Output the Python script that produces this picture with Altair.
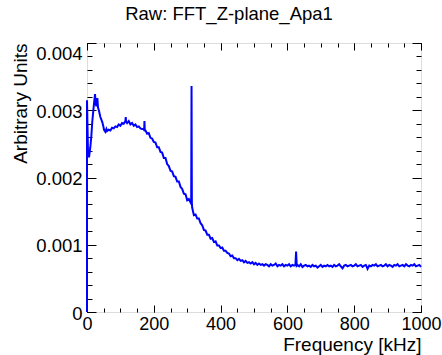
import altair as alt
import pandas as pd

# Frequency bins (kHz)
freq_low = [0, 0, 3, 6, 10, 13, 16, 20, 24, 26, 28, 31, 33, 36, 40, 43, 46, 49, 51, 55,
            58, 60, 65, 70, 75, 80, 85, 90, 95, 100, 105, 110, 115, 116, 117, 120, 125,
            130, 135, 140, 145, 150, 155, 160, 165, 170, 171, 172, 173]
freq_mid = list(range(175, 311, 5)) + [312, 313, 314] + list(range(315, 521, 5))
freq_high = list(range(525, 621, 5)) + [624, 626, 628] + list(range(630, 1001, 5))
freq = freq_low + freq_mid + freq_high

# Amplitudes (arbitrary units, x1e-3)
amp_low = [0.00, 3.15, 2.38, 2.30, 2.45, 2.62, 2.84, 3.05, 3.24, 3.10,
           3.06, 3.18, 3.04, 2.99, 2.90, 2.86, 2.82, 2.76, 2.71, 2.68,
           2.72, 2.69, 2.71, 2.70, 2.74, 2.73, 2.76, 2.75, 2.79, 2.77,
           2.81, 2.80, 2.84, 2.90, 2.83, 2.81, 2.84, 2.79, 2.81, 2.77,
           2.79, 2.75, 2.76, 2.73, 2.72, 2.72, 2.70, 2.84, 2.70]
amp_mid = [2.70, 2.65, 2.66, 2.59, 2.58, 2.53, 2.52, 2.45, 2.45, 2.38,
           2.37, 2.29, 2.29, 2.20, 2.17, 2.10, 2.09, 2.02, 2.01, 1.94,
           1.94, 1.86, 1.83, 1.76, 1.75, 1.66, 1.68, 1.63,
           1.66, 3.36, 1.60,
           1.55, 1.44, 1.45, 1.39, 1.39, 1.32, 1.29, 1.22, 1.21, 1.15,
           1.15, 1.09, 1.10, 1.04, 1.05, 0.99, 0.99, 0.95, 0.96, 0.91,
           0.91, 0.88, 0.87, 0.83, 0.84, 0.80, 0.80, 0.77, 0.79, 0.76,
           0.77, 0.74, 0.76, 0.73, 0.74, 0.72, 0.74, 0.71, 0.73, 0.70,
           0.72, 0.70]
amp_high = [0.71, 0.69, 0.71, 0.70, 0.68, 0.71, 0.69, 0.70, 0.72, 0.68,
            0.70, 0.69, 0.71, 0.68, 0.70, 0.69, 0.71, 0.68, 0.70, 0.69,
            0.70, 0.90, 0.69,
            0.70, 0.68, 0.71, 0.67, 0.69, 0.70, 0.68, 0.69, 0.67, 0.70,
            0.68, 0.69, 0.66, 0.68, 0.70, 0.67, 0.69, 0.68, 0.70, 0.68,
            0.69, 0.67, 0.70, 0.68, 0.69, 0.71, 0.68, 0.65, 0.69, 0.70,
            0.68, 0.69, 0.70, 0.68, 0.69, 0.71, 0.68, 0.69, 0.70, 0.67,
            0.69, 0.70, 0.64, 0.69, 0.68, 0.70, 0.69, 0.71, 0.68, 0.69,
            0.70, 0.68, 0.69, 0.71, 0.68, 0.70, 0.69, 0.67, 0.70, 0.69,
            0.71, 0.68, 0.69, 0.70, 0.68, 0.71, 0.69, 0.68, 0.70, 0.69,
            0.71, 0.68, 0.69, 0.70, 0.67]
amp_milli = amp_low + amp_mid + amp_high

x_major = [0, 200, 400, 600, 800, 1000]
x_minor = [v * 50 for v in range(21)]
y_major = [0, 0.001, 0.002, 0.003, 0.004]
y_minor = [v * 0.0002 for v in range(21)]

df = pd.DataFrame({
    "idx": list(range(len(freq))),
    "freq": freq,
    "amp": [a / 1000 for a in amp_milli],
})

FONT = "Liberation Sans"
xscale = alt.Scale(domain=[0, 1000], nice=False, zero=False)
yscale = alt.Scale(domain=[0, 0.004], nice=False, zero=False)


def tick_axis(orient, values, size):
    return alt.Axis(orient=orient, values=values, tickSize=size, offset=-size,
                    labels=False, domain=False, grid=False, title=None,
                    tickColor="black", tickWidth=1)


main = alt.Chart(df).mark_line(color="#0000ff", strokeWidth=2).encode(
    x=alt.X("freq:Q", scale=xscale, axis=alt.Axis(
        orient="bottom", values=x_major, tickSize=7, offset=-7, domain=False, grid=False,
        tickColor="black", labelPadding=3, labelFontSize=18, labelFont=FONT,
        labelColor="black", format="d", labelFlush=False, labelOverlap=False,
        title="Frequency [kHz]", titleAnchor="end", titleAlign="right",
        titleFontSize=19, titleFont=FONT, titleFontWeight="normal",
        titleColor="black", titleBaseline="alphabetic", titleX=334, titleY=45)),
    y=alt.Y("amp:Q", scale=yscale, axis=alt.Axis(
        orient="left", values=y_major, tickSize=9, offset=-9, domain=False, grid=False,
        tickColor="black", labelPadding=5, labelFontSize=18.5, labelFont=FONT,
        labelColor="black", labelOffset=1, labelFlush=False, labelOverlap=False,
        labelExpr="datum.value == 0 ? '0' : format(datum.value, '.3f')",
        labelBaseline={"condition": {"test": "datum.value >= 0.004", "value": "top"},
                       "value": "middle"},
        title="Arbitrary Units", titleAnchor="end", titleFontSize=19, titleFont=FONT,
        titleFontWeight="normal", titleColor="black", titlePadding=5)),
    order="idx:Q",
)

minor_bl = alt.Chart(df).mark_line(opacity=0).encode(
    x=alt.X("freq:Q", scale=xscale, axis=tick_axis("bottom", x_minor, 4)),
    y=alt.Y("amp:Q", scale=yscale, axis=tick_axis("left", y_minor, 5)),
    order="idx:Q",
)
major_tr = alt.Chart(df).mark_line(opacity=0).encode(
    x=alt.X("freq:Q", scale=xscale, axis=tick_axis("top", x_major, 7)),
    y=alt.Y("amp:Q", scale=yscale, axis=tick_axis("right", y_major, 9)),
    order="idx:Q",
)
minor_tr = alt.Chart(df).mark_line(opacity=0).encode(
    x=alt.X("freq:Q", scale=xscale, axis=tick_axis("top", x_minor, 4)),
    y=alt.Y("amp:Q", scale=yscale, axis=tick_axis("right", y_minor, 5)),
    order="idx:Q",
)

chart = alt.layer(main, minor_bl, major_tr, minor_tr).resolve_axis(
    x="independent", y="independent"
).properties(
    width=334, height=269,
    autosize=alt.AutoSizeParams(type="none"),
    padding={"left": 87, "top": 43, "right": 21, "bottom": 43},
    title=alt.TitleParams("Raw: FFT_Z-plane_Apa1", fontSize=18.5, font=FONT,
                          fontWeight="normal", color="black", anchor="middle",
                          baseline="bottom", offset=16, dx=-25, dy=16),
).configure_view(stroke="black", strokeWidth=1.2).configure(background="white")

chart.save("out.html", embed_options={"renderer": "svg", "actions": False})
